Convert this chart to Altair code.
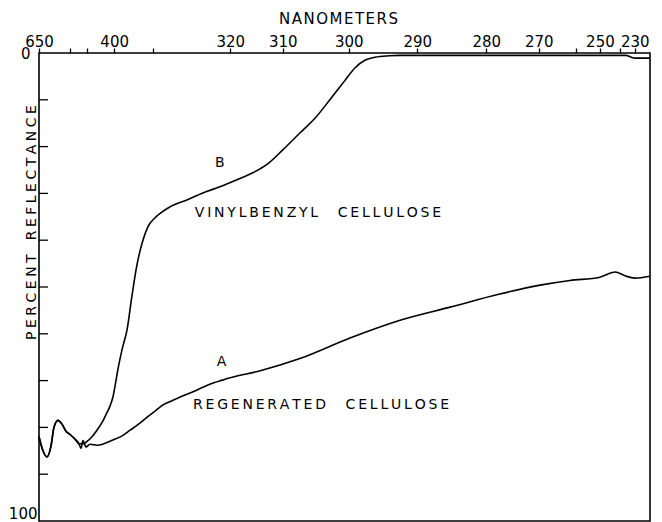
import altair as alt
import pandas as pd

# ---- data (x in chart scan units 0..100, y in percent reflectance) ----
tick_pos = [0, 5.1, 7.9, 12.3, 18.7, 31.3, 39.9, 50.7, 61.9, 73.2, 81.8, 87.9, 91.8, 95.1, 97.5]
tick_lab = ["650", "", "", "400", "", "320", "310", "300", "290", "280", "270", "", "250", "", "230"]

a_x = [0, 0.65, 1.31, 1.96, 2.45, 3.11, 3.76, 4.42, 5.07, 5.89, 6.55, 6.87, 7.2, 7.69, 8.35, 9.49,
       10.8, 12.1, 13.6, 14.9, 16.4, 17.7, 19.0, 20.3, 21.8, 23.1, 24.4, 25.9, 27.2, 28.5, 30.0, 31.3,
       36.2, 42.7, 50.9, 59.1, 67.3, 75.4, 82.0, 86.9, 91.8, 94.3, 95.9, 97.5, 100]
a_y = [82, 85, 86.3, 84, 80, 78.5, 79.3, 80.8, 81.5, 82.5, 83.5, 84.5, 82.8, 84.2, 83.6, 83.8,
       83.4, 82.7, 81.8, 80.6, 79.2, 77.8, 76.5, 75.2, 74.3, 73.5, 72.8, 72.0, 71.2, 70.5, 69.9, 69.4,
       67.9, 65.3, 60.9, 57.1, 54.3, 51.5, 49.6, 48.6, 47.9, 46.8, 47.6, 48.1, 47.7]

b_x = [0, 0.65, 1.31, 1.96, 2.45, 3.11, 3.76, 4.42, 5.07, 5.89, 6.55, 7.2, 7.86, 8.67, 9.49, 10.3,
       11.1, 11.6, 12.1, 12.6, 12.9, 13.4, 13.7, 14.4, 15.2, 16.0, 16.9, 17.8, 19.0, 20.1, 21.4, 24.2,
       26.8, 29.6, 32.4, 35.0, 37.8, 39.9, 42.7, 45.2, 47.6, 50.1, 51.7, 53.4, 55.0, 57.3, 59.1, 75.4,
       91.8, 96.0, 97.5, 100]
b_y = [82, 85, 86.3, 84, 80, 78.5, 79.3, 80.8, 81.5, 82.5, 83.5, 83.5, 83, 82, 80.6, 79,
       76.9, 75.5, 73.5, 70, 67.7, 64.5, 62.8, 59.2, 52, 45.5, 40.5, 37.2, 35.2, 34, 32.9, 31.4,
       29.9, 28.6, 27.1, 25.6, 23.3, 20.7, 17.1, 13.9, 10.0, 5.8, 3.2, 1.5, 0.9, 0.6, 0.5, 0.5,
       0.5, 0.5, 1.1, 1.1]

ann_text = ["B", "VINYLBENZYL CELLULOSE", "A", "REGENERATED CELLULOSE"]
ann_x = [28.8, 25.5, 29.1, 25.2]
ann_y = [23.5, 34.2, 66.0, 75.2]

y_ticks = [10, 20, 30, 40, 50, 60, 70, 80, 90]

x_title = "NANOMETERS"
y_title = "PERCENT REFLECTANCE"


# wide hand-lettered look: spread the letters with narrow (non-collapsing) space characters
def spread(s, gap, word_gap):
    return word_gap.join(gap.join(w) for w in s.split(" "))


THIN = "\u2009"
HAIR = "\u200a"
FOUR_PER_EM = "\u2005"
EN = "\u2002"

# ---- tables ----
rows = []
for i, (x, y) in enumerate(zip(a_x, a_y)):
    rows.append({"series": "A", "i": i, "u": x, "r": y})
for i, (x, y) in enumerate(zip(b_x, b_y)):
    rows.append({"series": "B", "i": i, "u": x, "r": y})
curves = pd.DataFrame(rows)
ann = pd.DataFrame({
    "t": [spread(t, THIN, THIN + EN + EN + THIN) for t in ann_text],
    "u": ann_x, "r": ann_y,
})
yt = pd.DataFrame({"r": y_ticks})

FONT = "DejaVu Sans"
label_expr = "[" + ",".join("'%s'" % s for s in tick_lab) + "][indexof([" + ",".join(str(p) for p in tick_pos) + "], datum.value)]"

xscale = alt.Scale(domain=[0, 100], nice=False, zero=False)
yscale = alt.Scale(domain=[0, 100], reverse=True, nice=False)

xaxis = alt.Axis(
    orient="top", values=tick_pos, labelExpr=label_expr, domain=False, grid=False,
    tickSize=5, tickColor="black", tickWidth=1.3, labelFont=FONT, labelFontSize=15,
    labelColor="black", labelBaseline="alphabetic", labelPadding=2, labelFlush=False,
    labelOverlap=False, title=spread(x_title, HAIR, EN), titleFont=FONT, titleFontSize=15,
    titleFontWeight="normal", titleColor="black", titleX=299, titleY=-30,
    titleAlign="center", titleBaseline="alphabetic",
)
yaxis = alt.Axis(
    values=[0, 100], ticks=False, domain=False, grid=False, labelFont=FONT,
    labelFontSize=15, labelColor="black", labelFlush=False,
    labelPadding={"condition": {"test": "datum.value == 0", "value": 9}, "value": 2},
    labelBaseline={"condition": {"test": "datum.value == 100", "value": "bottom"}, "value": "middle"},
    title=spread(y_title, FOUR_PER_EM, FOUR_PER_EM + EN + FOUR_PER_EM), titleFont=FONT,
    titleFontSize=14, titleFontWeight="normal", titleColor="black", titleAngle=270,
    titleX=-4, titleY=169, titleAlign="center", titleBaseline="alphabetic",
)

lines = alt.Chart(curves).mark_line(color="black", strokeWidth=1.6, interpolate="monotone").encode(
    x=alt.X("u:Q", scale=xscale, axis=xaxis),
    y=alt.Y("r:Q", scale=yscale, axis=yaxis),
    detail="series:N",
    order="i:Q",
)

ticks = alt.Chart(yt).mark_rule(color="black", strokeWidth=1.3).encode(
    y=alt.Y("r:Q", scale=yscale),
    x=alt.value(0),
    x2=alt.value(9),
)

texts = alt.Chart(ann).mark_text(
    font=FONT, fontSize=14, align="left", baseline="middle", color="black"
).encode(
    x=alt.X("u:Q", scale=xscale),
    y=alt.Y("r:Q", scale=yscale),
    text="t:N",
)

chart = alt.layer(lines, ticks, texts).properties(
    width=611, height=468,
    autosize=alt.AutoSizeParams(type="none"),
    padding={"left": 39, "top": 53, "right": 12, "bottom": 1},
    background="white",
).configure_view(stroke="black", strokeWidth=1.6)

chart.save("out.html", embed_options={"renderer": "svg", "actions": False})
